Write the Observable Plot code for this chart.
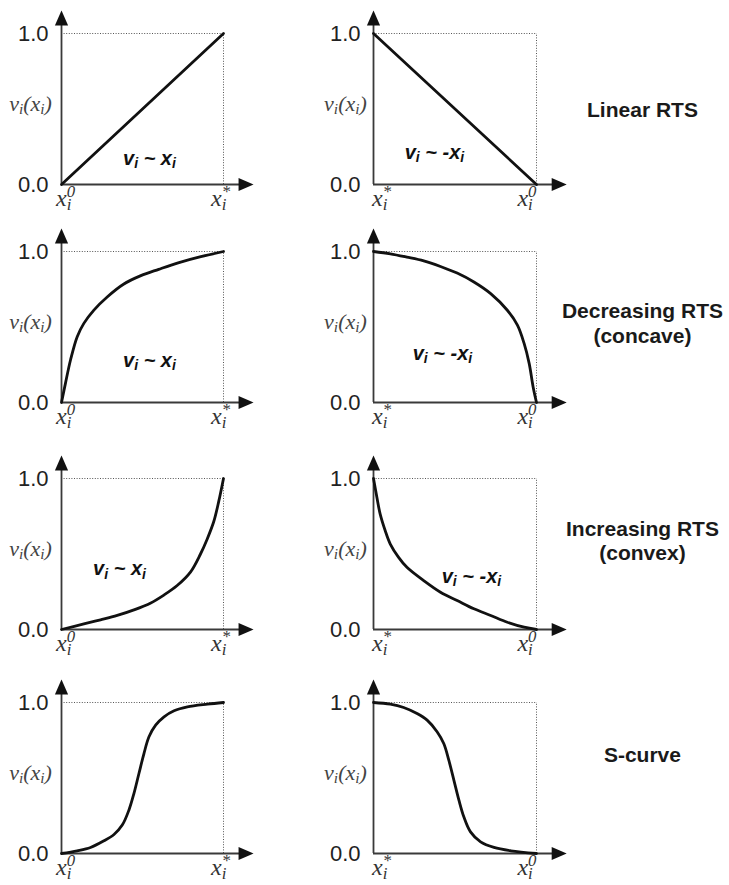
<!DOCTYPE html>
<html><head><meta charset="utf-8">
<script src="https://cdn.jsdelivr.net/npm/d3@7"></script>
<script src="https://cdn.jsdelivr.net/npm/@observablehq/plot@0.6"></script>
<style>
html,body{margin:0;padding:0;background:#fff;}
#wrap{position:relative;width:729px;height:885px;overflow:hidden;background:#fff;}
#wrap svg{position:absolute;overflow:visible;}
</style></head><body><div id="wrap"></div>
<script>
// ---------------- data ----------------
const rowLabels = ["Linear RTS", "Decreasing RTS\n(concave)", "Increasing RTS\n(convex)", "S-curve"];
const yTicks = [0, 1];
const yTickFormat = ".1f";
const axisLabel = "v_i(x_i)";
const leftXLabels = ["x_i^0", "x_i^*"];
const rightXLabels = ["x_i^*", "x_i^0"];
const upLabel = "v_i ~ x_i";
const downLabel = "v_i ~ -x_i";

const linearUpX = [0, 1];
const linearUpV = [0, 1];
const linearDownX = [0, 1];
const linearDownV = [1, 0];

const concaveUpX = [0, 0.025, 0.056, 0.097, 0.138, 0.2, 0.282, 0.385, 0.49, 0.6, 0.72, 0.86, 1];
const concaveUpV = [0, 0.13, 0.283, 0.436, 0.524, 0.612, 0.699, 0.785, 0.84, 0.882, 0.925, 0.966, 1];
const concaveDownX = [0, 0.103, 0.205, 0.308, 0.411, 0.513, 0.616, 0.719, 0.821, 0.883, 0.924, 0.955, 0.979, 1];
const concaveDownV = [1, 0.985, 0.963, 0.938, 0.901, 0.857, 0.798, 0.721, 0.611, 0.512, 0.391, 0.259, 0.105, 0];

const convexUpX = [0, 0.138, 0.241, 0.344, 0.447, 0.551, 0.632, 0.714, 0.796, 0.858, 0.899, 0.940, 0.971, 1];
const convexUpV = [0, 0.037, 0.064, 0.093, 0.130, 0.176, 0.228, 0.291, 0.38, 0.50, 0.598, 0.715, 0.85, 1];
const convexDownX = [0, 0.021, 0.041, 0.072, 0.103, 0.154, 0.205, 0.308, 0.411, 0.513, 0.616, 0.719, 0.821, 0.924, 1];
const convexDownV = [1, 0.874, 0.764, 0.654, 0.566, 0.478, 0.412, 0.324, 0.247, 0.192, 0.137, 0.093, 0.048, 0.015, 0];

const sUpX = [0, 0.097, 0.179, 0.262, 0.324, 0.375, 0.416, 0.447, 0.478, 0.509, 0.540, 0.581, 0.633, 0.695, 0.777, 0.901, 1];
const sUpV = [0, 0.018, 0.040, 0.084, 0.126, 0.188, 0.287, 0.397, 0.530, 0.662, 0.773, 0.850, 0.905, 0.945, 0.971, 0.989, 1];
const sDownX = [0, 0.103, 0.185, 0.267, 0.329, 0.390, 0.431, 0.462, 0.493, 0.524, 0.554, 0.595, 0.657, 0.739, 0.842, 1];
const sDownV = [1, 0.989, 0.967, 0.927, 0.883, 0.806, 0.728, 0.618, 0.486, 0.353, 0.243, 0.143, 0.077, 0.040, 0.018, 0];

// ---------------- layout ----------------
const rowTops = [33, 251, 478, 702];
const frameH = 151;
const mTop = 33, svgH = 222;
const cols = [
  {left: 0, width: 290, mLeft: 61, frameW: 162, xLabels: leftXLabels, xLabelAt: [-0.034, 0.923], vLabelX: -0.191},
  {left: 312, width: 417, mLeft: 61, frameW: 163, xLabels: rightXLabels, xLabelAt: [-0.009, 0.883], vLabelX: -0.172}
];
const innerAt = [
  [[0.543, 0.132], [0.374, 0.172]],
  [[0.543, 0.237], [0.423, 0.283]],
  [[0.358, 0.358], [0.601, 0.311]],
  [null, null]
];
const rowLabelAt = [[1.65, 0.447], [1.65, 0.397], [1.65, 0.457], [1.65, 0.609]];
const series = [
  [[linearUpX, linearUpV], [linearDownX, linearDownV]],
  [[concaveUpX, concaveUpV], [concaveDownX, concaveDownV]],
  [[convexUpX, convexUpV], [convexDownX, convexDownV]],
  [[sUpX, sUpV], [sDownX, sDownV]]
];
const X_AXIS_END = 1.12, X_ARROW = 1.13, Y_AXIS_END = 1.07, Y_ARROW = 1.093;
const SCRIPT = 0.7, SUB = 0.18, SUP = 0.38;

const arrowHead = {draw(ctx) { ctx.moveTo(0, -9); ctx.lineTo(6.6, 6); ctx.lineTo(-6.6, 6); ctx.closePath(); }};

function richify(svg) {
  svg.querySelectorAll("text").forEach(t => {
    if (t.children.length) return;
    const s = t.textContent;
    if (!/[_^]/.test(s)) return;
    const fs = parseFloat(getComputedStyle(t).fontSize);
    const toks = [];
    let buf = "";
    for (let i = 0; i < s.length; i++) {
      const ch = s[i];
      if ((ch === "_" || ch === "^") && i + 1 < s.length) {
        if (buf) { toks.push({k: "n", s: buf}); buf = ""; }
        toks.push({k: ch === "_" ? "sub" : "sup", s: s[++i]});
      } else buf += ch;
    }
    if (buf) toks.push({k: "n", s: buf});
    t.textContent = "";
    let cur = 0, prev = null;
    for (const tk of toks) {
      const ts = document.createElementNS("http://www.w3.org/2000/svg", "tspan");
      ts.textContent = tk.s;
      let target = 0;
      if (tk.k === "sub") { target = SUB * fs; ts.setAttribute("font-size", SCRIPT * fs); }
      else if (tk.k === "sup") { target = -SUP * fs; ts.setAttribute("font-size", SCRIPT * fs); }
      const dy = target - cur;
      if (dy) ts.setAttribute("dy", dy);
      cur = target;
      t.appendChild(ts);
      if (tk.k === "sup" && prev && prev.k === "sub") ts.setAttribute("dx", -prev.el.getComputedTextLength());
      prev = {k: tk.k, el: ts};
    }
  });
}

const wrap = document.getElementById("wrap");
rowTops.forEach((top, r) => {
  cols.forEach((col, c) => {
    const [xs, vs] = series[r][c];
    const data = xs.map((x, i) => ({x, v: vs[i]}));
    const marks = [
      Plot.ruleY([yTicks[1]], {x1: 0, x2: 1, stroke: "#555", strokeWidth: 1, strokeDasharray: "1,1.6"}),
      Plot.ruleX([1], {y1: 0, y2: yTicks[1], stroke: "#555", strokeWidth: 1, strokeDasharray: "1,1.6"}),
      Plot.ruleY([0], {x1: 0, x2: X_AXIS_END, stroke: "#3a3a3a", strokeWidth: 1.8}),
      Plot.ruleX([0], {y1: 0, y2: Y_AXIS_END, stroke: "#3a3a3a", strokeWidth: 1.8}),
      Plot.dot([0], {x: X_ARROW, y: 0, symbol: arrowHead, rotate: 90, fill: "#111", stroke: null, r: 5}),
      Plot.dot([0], {x: 0, y: Y_ARROW, symbol: arrowHead, fill: "#111", stroke: null, r: 5}),
      Plot.line(data, {x: "x", y: "v", curve: "catmull-rom", stroke: "#111", strokeWidth: 2.8}),
      Plot.axisY(yTicks, {tickFormat: d3.format(yTickFormat), tickSize: 0, tickPadding: 13, fontSize: 22, fontFamily: "Liberation Sans, Arial, sans-serif", label: null, fill: "#222"}),
      Plot.text([axisLabel], {x: col.vLabelX, y: 0.49, text: d => d, textAnchor: "middle", lineAnchor: "bottom", fontFamily: "Liberation Serif, Times New Roman, serif", fontStyle: "italic", fontSize: 22, fill: "#444"}),
      Plot.text(col.xLabels, {x: (d, i) => col.xLabelAt[i], y: -0.14, text: d => d, textAnchor: "start", lineAnchor: "bottom", fontFamily: "Liberation Serif, Times New Roman, serif", fontStyle: "italic", fontSize: 24, fill: "#333"})
    ];
    if (innerAt[r][c]) {
      marks.push(Plot.text([c === 0 ? upLabel : downLabel], {x: innerAt[r][c][0], y: innerAt[r][c][1], text: d => d, textAnchor: "middle", lineAnchor: "bottom", fontFamily: "Liberation Sans, Arial, sans-serif", fontWeight: "bold", fontStyle: "italic", fontSize: 20, fill: "#111"}));
    }
    if (c === 1) {
      marks.push(Plot.text([rowLabels[r]], {x: rowLabelAt[r][0], y: rowLabelAt[r][1], text: d => d, textAnchor: "middle", lineAnchor: "bottom", lineHeight: 1.15, fontFamily: "Liberation Sans, Arial, sans-serif", fontWeight: "bold", fontSize: 21, fill: "#1a1a1a"}));
    }
    const svg = Plot.plot({
      width: col.width,
      height: svgH,
      marginLeft: col.mLeft,
      marginRight: col.width - col.mLeft - col.frameW,
      marginTop: mTop,
      marginBottom: svgH - mTop - frameH,
      x: {domain: [0, 1], axis: null},
      y: {domain: [0, 1]},
      style: {background: "transparent", overflow: "visible", fontFamily: "Liberation Sans, Arial, sans-serif"},
      marks
    });
    svg.style.left = col.left + "px";
    svg.style.top = (top - mTop) + "px";
    wrap.appendChild(svg);
    richify(svg);
  });
});
</script></body></html>
